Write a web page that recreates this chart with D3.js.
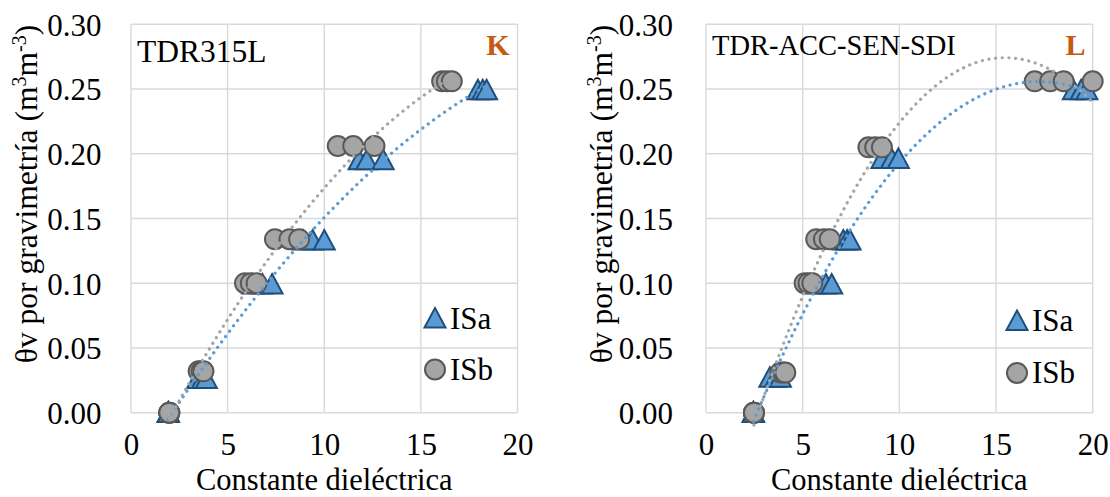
<!DOCTYPE html>
<html><head><meta charset="utf-8">
<script src="https://cdn.jsdelivr.net/npm/d3@7"></script>
<style>body{margin:0;background:#fff}svg{display:block}</style>
</head><body>
<svg id="c" width="1110" height="497"></svg>
<script>
// ---- data ----
const xTicks = [0, 5, 10, 15, 20];
const yTicks = [0, 0.05, 0.10, 0.15, 0.20, 0.25, 0.30];
const seriesNames = ["ISa", "ISb"];
const panelTitles = ["TDR315L", "TDR-ACC-SEN-SDI"];
const panelLetters = ["K", "L"];
const xTitle = "Constante dieléctrica";

const leftISaX = [1.93, 1.93, 1.93, 3.45, 3.7, 3.9, 6.3, 6.8, 7.3, 8.9, 9.4, 10.0, 11.8, 12.2, 13.05, 17.95, 18.2, 18.4];
const leftISaY = [0, 0, 0, 0.026, 0.026, 0.026, 0.099, 0.099, 0.099, 0.133, 0.133, 0.133, 0.195, 0.195, 0.195, 0.249, 0.249, 0.249];
const leftISbX = [1.98, 1.98, 1.98, 3.5, 3.65, 3.75, 5.9, 6.2, 6.5, 7.45, 8.2, 8.7, 10.7, 11.5, 12.6, 16.1, 16.35, 16.6];
const leftISbY = [0, 0, 0, 0.032, 0.032, 0.032, 0.100, 0.100, 0.100, 0.134, 0.134, 0.134, 0.206, 0.206, 0.206, 0.256, 0.256, 0.256];

const rightISaX = [2.45, 2.45, 2.45, 3.3, 3.6, 3.85, 5.6, 6.2, 6.5, 7.1, 7.3, 7.45, 9.1, 9.6, 9.95, 19.0, 19.4, 19.7];
const rightISaY = [0, 0, 0, 0.027, 0.027, 0.027, 0.099, 0.099, 0.099, 0.133, 0.133, 0.133, 0.196, 0.196, 0.196, 0.249, 0.249, 0.249];
const rightISbX = [2.48, 2.48, 2.48, 3.85, 4.0, 4.1, 5.1, 5.3, 5.5, 5.7, 6.1, 6.4, 8.4, 8.75, 9.1, 17.0, 17.8, 18.5, 20.0];
const rightISbY = [0, 0, 0, 0.031, 0.031, 0.031, 0.100, 0.100, 0.100, 0.134, 0.134, 0.134, 0.205, 0.205, 0.205, 0.256, 0.256, 0.256, 0.256];

// ---- layout ----
const FONT = '"Liberation Serif"';
const panels = [
  {x0: 131, x1: 517.5, ax: leftISaX, ay: leftISaY, bx: leftISbX, by: leftISbY,
   title: panelTitles[0], titleSize: 31.5, titleX: 137, titleY: 62, letter: panelLetters[0], letterX: 509.5, letterY: 55,
   yTitleX: 26, ylabX: 101.5, legX: 435, legA: 318.5, legB: 369.5},
  {x0: 706, x1: 1092.7, ax: rightISaX, ay: rightISaY, bx: rightISbX, by: rightISbY,
   title: panelTitles[1], titleSize: 28.5, titleX: 712, titleY: 55, letter: panelLetters[1], letterX: 1085.5, letterY: 55,
   yTitleX: 601, ylabX: 673, legX: 1017, legA: 321, legB: 373}
];
const yTop = 24.3, yBot = 412.7;
const BLUE = "#5B9BD5", BLUE_DK = "#1F4E79", GRAY = "#A5A5A5", GRAY_DK = "#595959";

const svg = d3.select("#c");

function quadFit(xs, ys) {
  let S = Array.from({length: 5}, () => 0), T = [0, 0, 0];
  xs.forEach((x, i) => {
    for (let k = 0; k < 5; k++) S[k] += Math.pow(x, k);
    for (let k = 0; k < 3; k++) T[k] += ys[i] * Math.pow(x, k);
  });
  const M = [[S[0], S[1], S[2], T[0]], [S[1], S[2], S[3], T[1]], [S[2], S[3], S[4], T[2]]];
  for (let i = 0; i < 3; i++) {
    let p = i; for (let r = i + 1; r < 3; r++) if (Math.abs(M[r][i]) > Math.abs(M[p][i])) p = r;
    [M[i], M[p]] = [M[p], M[i]];
    for (let r = 0; r < 3; r++) if (r !== i) {
      const f = M[r][i] / M[i][i];
      for (let c = i; c < 4; c++) M[r][c] -= f * M[i][c];
    }
  }
  const c = M.map((row, i) => row[3] / row[i]);
  return x => c[0] + c[1] * x + c[2] * x * x;
}

const triPath = "M0,-10.5L10.5,9L-10.5,9Z";

function txt(sel) { return sel.style("font-family", FONT).attr("fill", "#000"); }

panels.forEach(P => {
  const x = d3.scaleLinear().domain([0, 20]).range([P.x0, P.x1]);
  const y = d3.scaleLinear().domain([0, 0.30]).range([yBot, yTop]);
  const g = svg.append("g");

  // grid
  g.selectAll(".gx").data(xTicks).join("line")
    .attr("x1", d => x(d)).attr("x2", d => x(d)).attr("y1", yTop).attr("y2", yBot)
    .attr("stroke", "#D9D9D9").attr("stroke-width", 1.4);
  g.selectAll(".gy").data(yTicks).join("line")
    .attr("y1", d => y(d)).attr("y2", d => y(d)).attr("x1", P.x0).attr("x2", P.x1)
    .attr("stroke", "#D9D9D9").attr("stroke-width", 1.4);

  // axes labels via d3 axes
  const xa = g.append("g").attr("transform", `translate(0,455)`)
    .call(d3.axisBottom(x).tickValues(xTicks).tickSize(0).tickPadding(0).tickFormat(d3.format("d")));
  xa.attr("font-family", null).attr("font-size", null);
  xa.select(".domain").remove();
  txt(xa.selectAll("text")).attr("font-size", 31).attr("y", 0).attr("dy", null);

  const ya = g.append("g").attr("transform", `translate(${P.ylabX},0)`)
    .call(d3.axisLeft(y).tickValues(yTicks).tickSize(0).tickPadding(0).tickFormat(d3.format(".2f")));
  ya.attr("font-family", null).attr("font-size", null);
  ya.select(".domain").remove();
  txt(ya.selectAll("text")).attr("font-size", 31).attr("dy", "0.35em");

  // axis titles
  txt(g.append("text")).attr("x", (P.x0 + P.x1) / 2).attr("y", 490).attr("text-anchor", "middle")
    .attr("font-size", 30.5).text(xTitle);
  const yt = txt(g.append("text")).attr("transform", `translate(${P.yTitleX},194) rotate(-90)`)
    .attr("text-anchor", "middle").attr("dy", "0.35em").attr("font-size", 31.5);
  yt.append("tspan").text("θv por gravimetría (m");
  yt.append("tspan").attr("font-size", 20).attr("dy", -11).text("3");
  yt.append("tspan").attr("dy", 11).text("m");
  yt.append("tspan").attr("font-size", 20).attr("dy", -11).text("-3");
  yt.append("tspan").attr("dy", 11).text(")");

  // markers
  const A = P.ax.map((v, i) => [v, P.ay[i]]);
  const B = P.bx.map((v, i) => [v, P.by[i]]);
  g.selectAll(".ta").data(A).join("path").attr("d", triPath)
    .attr("transform", d => `translate(${x(d[0])},${y(d[1])})`)
    .attr("fill", BLUE).attr("stroke", BLUE_DK).attr("stroke-width", 2).attr("stroke-linejoin", "miter");
  g.selectAll(".cb").data(B).join("circle")
    .attr("cx", d => x(d[0])).attr("cy", d => y(d[1])).attr("r", 10)
    .attr("fill", GRAY).attr("stroke", GRAY_DK).attr("stroke-width", 2);

  // trendlines (quadratic least squares)
  [[P.ax, P.ay, BLUE], [P.bx, P.by, GRAY]].forEach(([xs, ys, col]) => {
    const f = quadFit(xs, ys);
    const lo = d3.min(xs), hi = d3.max(xs);
    const pts = d3.range(0, 201).map(i => lo + (hi - lo) * i / 200);
    g.append("path").datum(pts)
      .attr("d", d3.line().x(d => x(d)).y(d => y(f(d))))
      .attr("fill", "none").attr("stroke", col).attr("stroke-width", 3.2)
      .attr("stroke-linecap", "round").attr("stroke-dasharray", "0.1 6.6");
  });

  // panel labels
  txt(g.append("text")).attr("x", P.titleX).attr("y", P.titleY).attr("font-size", P.titleSize).text(P.title);
  txt(g.append("text")).attr("x", P.letterX).attr("y", P.letterY).attr("text-anchor", "end")
    .attr("font-size", 30).attr("font-weight", "bold").attr("fill", "#C55A11").text(P.letter);

  // legend
  g.append("path").attr("d", triPath).attr("transform", `translate(${P.legX},${P.legA})`)
    .attr("fill", BLUE).attr("stroke", BLUE_DK).attr("stroke-width", 2);
  txt(g.append("text")).attr("x", P.legX + 15).attr("y", P.legA).attr("dy", "0.33em")
    .attr("font-size", 31).text(seriesNames[0]);
  g.append("circle").attr("cx", P.legX).attr("cy", P.legB).attr("r", 10)
    .attr("fill", GRAY).attr("stroke", GRAY_DK).attr("stroke-width", 2);
  txt(g.append("text")).attr("x", P.legX + 15).attr("y", P.legB).attr("dy", "0.33em")
    .attr("font-size", 31).text(seriesNames[1]);
});
</script>
</body></html>
